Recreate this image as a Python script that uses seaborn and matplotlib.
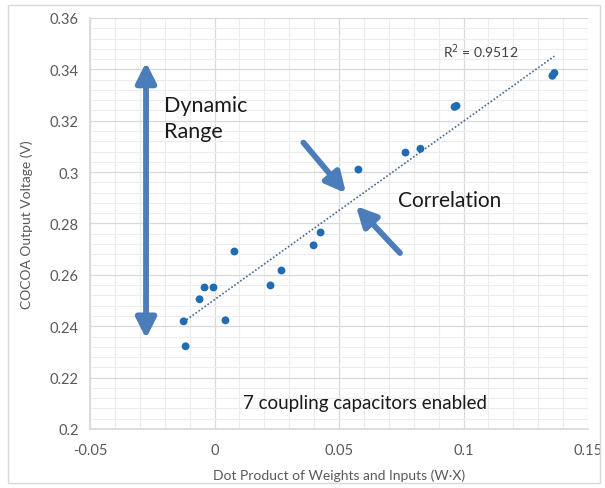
import numpy as np
import pandas as pd
import matplotlib
matplotlib.use("Agg")
import matplotlib.pyplot as plt
from matplotlib.patches import FancyArrowPatch, Rectangle
from matplotlib.ticker import MultipleLocator
import seaborn as sns

# ---- data ----
dot_product = [-0.0124, -0.0116, -0.0060, -0.0040, -0.0004, 0.0044, 0.0080,
               0.0225, 0.0269, 0.0398, 0.0426, 0.0578, 0.0767, 0.0827,
               0.0964, 0.0972, 0.1357, 0.1365]
output_voltage = [0.2419, 0.2322, 0.2505, 0.2551, 0.2551, 0.2423, 0.2691,
                  0.2559, 0.2617, 0.2715, 0.2765, 0.3010, 0.3076, 0.3091,
                  0.3254, 0.3258, 0.3375, 0.3386]
x_ticks = [-0.05, 0, 0.05, 0.1, 0.15]
x_tick_labels = ["-0.05", "0", "0.05", "0.1", "0.15"]
y_ticks = [0.2, 0.22, 0.24, 0.26, 0.28, 0.3, 0.32, 0.34, 0.36]
y_tick_labels = ["0.2", "0.22", "0.24", "0.26", "0.28", "0.3", "0.32", "0.34", "0.36"]
r2_label = "R$^2$ = 0.9512"
x_label = "Dot Product of Weights and Inputs (W\u00b7X)"
y_label = "COCOA Output Voltage (V)"
dyn_label = "Dynamic\nRange"
corr_label = "Correlation"
note_label = "7 coupling capacitors enabled"

df = pd.DataFrame({"x": dot_product, "y": output_voltage})

sns.set_theme(style="white")
plt.rcParams["font.family"] = ["Lato", "DejaVu Sans"]

fig = plt.figure(figsize=(6.05, 4.89), dpi=100)
ax = fig.add_axes([90 / 605, 59 / 489, 498 / 605, 411 / 489])

point_color = "#1F6CB4"
arrow_color = "#4A7DBA"
tick_color = "#595959"

# grid
ax.set_xlim(-0.05, 0.15)
ax.set_ylim(0.2, 0.36)
ax.xaxis.set_minor_locator(MultipleLocator(0.01))
ax.yaxis.set_minor_locator(MultipleLocator(0.004))
ax.grid(which="major", color="#D9D9D9", linewidth=0.9)
ax.grid(which="minor", color="#ECECEC", linewidth=0.8)
ax.set_axisbelow(True)
for side in ["top", "right"]:
    ax.spines[side].set_visible(False)
ax.spines["left"].set_color("#D9D9D9")
ax.spines["bottom"].set_color("#D9D9D9")

# trend line
sns.regplot(data=df, x="x", y="y", ax=ax, scatter=False, ci=None,
            line_kws=dict(color="#44699A", linestyle=(0, (1, 1.2)), linewidth=1.2))
# points
sns.scatterplot(data=df, x="x", y="y", ax=ax, color=point_color, s=32,
                edgecolor="none", zorder=3)

ax.set_xticks(x_ticks)
ax.set_xticklabels(x_tick_labels)
ax.set_yticks(y_ticks)
ax.set_yticklabels(y_tick_labels)
ax.tick_params(axis="both", which="both", length=0, labelsize=10.5, colors=tick_color, pad=8)
ax.tick_params(axis="x", pad=10)
ax.set_xlabel(x_label, fontsize=10, color=tick_color, labelpad=8)
ax.set_ylabel(y_label, fontsize=10, color=tick_color, labelpad=12)

# R^2 label
ax.text(0.0916, 0.3472, r2_label, fontsize=10, color="#404040", va="center", ha="left")

arrow_style_double = "<|-|>,head_length=5,head_width=2.5"
arrow_style_single = "-|>,head_length=5,head_width=2.5"

# dynamic range double arrow
ax.add_patch(FancyArrowPatch((-0.0275, 0.2352), (-0.0275, 0.3428),
                             arrowstyle=arrow_style_double,
                             mutation_scale=2.4, linewidth=4.2, color=arrow_color,
                             shrinkA=0, shrinkB=0, zorder=4))
ax.text(-0.0203, 0.3210, dyn_label, fontsize=15.5, color="#1A1A1A", va="center",
        ha="left", linespacing=1.35)

# correlation arrows
ax.add_patch(FancyArrowPatch((0.0357, 0.3115), (0.0528, 0.2918),
                             arrowstyle=arrow_style_single,
                             mutation_scale=2.4, linewidth=4.2, color=arrow_color,
                             shrinkA=0, shrinkB=0, zorder=4))
ax.add_patch(FancyArrowPatch((0.0745, 0.2685), (0.0568, 0.2868),
                             arrowstyle=arrow_style_single,
                             mutation_scale=2.4, linewidth=4.2, color=arrow_color,
                             shrinkA=0, shrinkB=0, zorder=4))
ax.text(0.0735, 0.2893, corr_label, fontsize=15, color="#1A1A1A", va="center", ha="left")

ax.text(0.0606, 0.2105, note_label, fontsize=13.5, color="#1A1A1A", va="center", ha="center")

# outer frame
fig.patches.append(Rectangle((8 / 605, 5 / 489), 592 / 605, 478 / 489,
                             transform=fig.transFigure, fill=False,
                             edgecolor="#D9D9D9", linewidth=1))

fig.savefig("out.png", dpi=100, facecolor="white")
